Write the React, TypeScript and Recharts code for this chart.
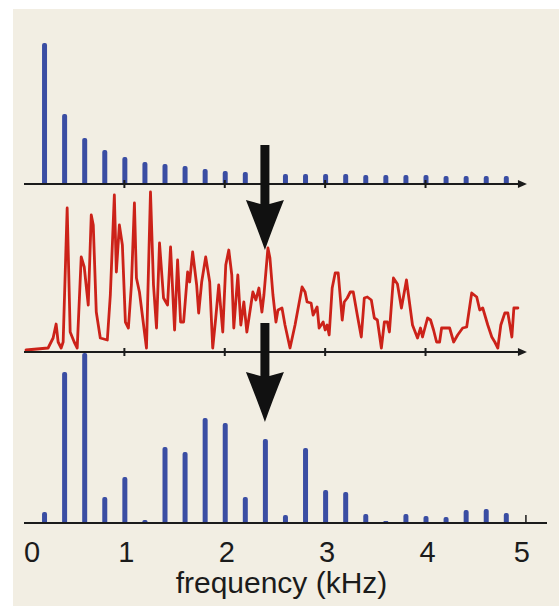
import React from 'react';
import { ComposedChart, Bar, Line, XAxis, YAxis, ReferenceLine, ReferenceDot } from 'recharts';

// Harmonic frequencies (kHz)
const harmonicFreqs = [0.2, 0.4, 0.6, 0.8, 1.0, 1.2, 1.4, 1.6, 1.8, 2.0, 2.2, 2.4, 2.6, 2.8, 3.0, 3.2, 3.4, 3.6, 3.8, 4.0, 4.2, 4.4, 4.6, 4.8];
// Source spectrum amplitudes (top panel)
const sourceAmps = [141, 70, 46, 34, 27, 22, 20, 18, 15, 13, 12, 11, 10, 10, 10, 10, 9, 9, 9, 9, 8, 8, 8, 8];
// Output spectrum amplitudes (bottom panel)
const outputAmps = [11, 151, 170, 26, 46, 3, 76, 71, 105, 100, 26, 84, 8, 75, 33, 31, 9, 2, 9, 7, 6, 13, 14, 10];

// Filter response (middle panel)
const filterFreqs = [
  0.02, 0.24, 0.29, 0.32, 0.34, 0.37, 0.39, 0.43, 0.46, 0.5, 0.53, 0.57, 0.6, 0.64, 0.67, 0.69, 0.72, 0.76, 0.83, 0.86,
  0.9, 0.92, 0.95, 0.98, 1.01, 1.04, 1.07, 1.1, 1.12, 1.15, 1.22, 1.26, 1.29, 1.32, 1.35, 1.39, 1.43, 1.46, 1.5, 1.53,
  1.56, 1.59, 1.63, 1.65, 1.68, 1.72, 1.74, 1.77, 1.81, 1.85, 1.88, 1.91, 1.94, 1.98, 2.01, 2.04, 2.07, 2.09, 2.13, 2.16,
  2.19, 2.22, 2.25, 2.28, 2.31, 2.34, 2.37, 2.39, 2.43, 2.45, 2.48, 2.51, 2.53, 2.57, 2.6, 2.65, 2.7, 2.77, 2.8, 2.82,
  2.86, 2.88, 2.92, 2.94, 2.98, 3.0, 3.02, 3.04, 3.07, 3.1, 3.13, 3.17, 3.19, 3.22, 3.25, 3.28, 3.32, 3.36, 3.39, 3.42,
  3.46, 3.49, 3.52, 3.56, 3.59, 3.62, 3.64, 3.68, 3.72, 3.76, 3.81, 3.83, 3.87, 3.92, 3.95, 3.97, 4.02, 4.05, 4.08, 4.11,
  4.14, 4.16, 4.21, 4.24, 4.28, 4.32, 4.37, 4.41, 4.46, 4.51, 4.54, 4.57, 4.62, 4.66, 4.69, 4.72, 4.75, 4.79, 4.82, 4.86,
  4.88, 4.92,
];
const filterGain = [
  2, 4, 14, 28, 10, 4, 10, 144, 20, 10, 4, 95, 85, 47, 137, 127, 40, 14, 12, 57,
  157, 80, 127, 107, 30, 24, 67, 149, 74, 60, 4, 160, 67, 24, 109, 54, 47, 105, 22, 92,
  30, 30, 80, 70, 100, 67, 39, 70, 95, 70, 4, 34, 67, 20, 87, 102, 77, 24, 77, 27,
  50, 20, 40, 60, 52, 64, 40, 57, 104, 94, 57, 30, 42, 44, 27, 4, 27, 65, 60, 50,
  49, 37, 45, 24, 30, 22, 27, 17, 64, 79, 79, 32, 50, 54, 60, 60, 37, 15, 54, 55,
  52, 34, 32, 4, 30, 30, 20, 74, 68, 44, 72, 57, 27, 14, 24, 15, 34, 32, 22, 10,
  10, 24, 24, 24, 10, 17, 24, 25, 59, 55, 42, 44, 27, 15, 10, 4, 27, 39, 39, 15,
  44, 44,
];

const tickValues = [0, 1, 2, 3, 4, 5];
const innerTicks = [1, 2, 3, 4];
const markedFreq = 2.4;
const upperArrow = { from: 207, to: 102 };
const lowerArrow = { from: 29, to: -70 };

const barData = harmonicFreqs.map((f, i) => ({ f, src: sourceAmps[i], out: outputAmps[i] }));
const lineData = filterFreqs.map((f, i) => ({ f, g: filterGain[i] }));

const INK = '#1b1b1b';
const BLUE = '#3a4da3';
const RED = '#cc2219';
const FONT = '"Liberation Sans", Arial, sans-serif';
const X_DOMAIN: [number, number] = [0, 5.21];

const DigitTick = (props: any) => {
  const { x, y, payload } = props;
  const shift = payload.value === 0 ? 8 : payload.value === 5 ? -4 : 2;
  return (
    <text x={x + shift} y={y} dy={31} textAnchor="middle" fontSize={29} fill={INK} fontFamily={FONT}>
      {payload.value}
    </text>
  );
};

const AxisWithArrow = (props: any) => {
  const { x1, y1, x2 } = props;
  return (
    <g>
      <line x1={x1} y1={y1} x2={x2} y2={y1} stroke={INK} strokeWidth={2.2} />
      <path d={`M${x2 + 4},${y1} L${x2 - 5},${y1 - 4} L${x2 - 5},${y1 + 4} Z`} fill={INK} />
    </g>
  );
};

const TickMark = (props: any) => {
  const { cx, cy } = props;
  return <line x1={cx} y1={cy - 4} x2={cx} y2={cy + 4} stroke={INK} strokeWidth={2} />;
};

const UpTick = (props: any) => {
  const { cx, cy } = props;
  return <line x1={cx} y1={cy - 8} x2={cx} y2={cy} stroke={INK} strokeWidth={1.5} />;
};

const BigArrow = (props: any) => {
  const { x1, y1, y2 } = props;
  const x = x1;
  const sh = 4.5;
  const hh = 19;
  const hl = 50;
  const by = y2 - hl;
  const d = `M${x - sh},${y1} L${x + sh},${y1} L${x + sh},${by + 4} L${x + hh},${by} Q${x + 7},${y2 - 20} ${x},${y2} Q${x - 7},${y2 - 20} ${x - hh},${by} L${x - sh},${by + 4} Z`;
  return <path d={d} fill="#111" />;
};

export default function App() {
  return (
    <div style={{ position: 'absolute', left: 0, top: 0, width: 559, height: 606, background: '#ffffff', overflow: 'hidden' }}>
      <div style={{ position: 'absolute', left: 13, top: 9, width: 546, height: 597, background: '#f2eee3' }} />
      <div style={{ position: 'absolute', left: 0, top: 0 }}>
        <ComposedChart width={559} height={606} data={barData} margin={{ top: 17, right: 12, bottom: 0, left: 24 }}>
          <XAxis
            xAxisId="bot"
            type="number"
            dataKey="f"
            domain={X_DOMAIN}
            ticks={tickValues}
            interval={0}
            allowDataOverflow
            tickLine={false}
            axisLine={{ stroke: INK, strokeWidth: 2.2 }}
            height={83}
            tick={<DigitTick />}
            label={{ value: 'frequency (kHz)', position: 'insideBottom', offset: 13, fontSize: 30, fill: INK, fontFamily: FONT, dx: -4 }}
          />
          <XAxis xAxisId="top" type="number" dataKey="f" domain={X_DOMAIN} allowDataOverflow hide />
          <XAxis xAxisId="mid" type="number" dataKey="f" domain={X_DOMAIN} allowDataOverflow hide />
          <YAxis
            yAxisId="bot"
            type="number"
            domain={[0, 506]}
            allowDataOverflow
            width={0}
            tick={false}
            tickLine={false}
            axisLine={{ stroke: INK, strokeWidth: 2.2 }}
          />
          <YAxis yAxisId="top" type="number" domain={[-339, 167]} allowDataOverflow hide />
          <YAxis yAxisId="mid" type="number" domain={[-171, 335]} allowDataOverflow hide />

          <Bar xAxisId="top" yAxisId="top" dataKey="src" fill={BLUE} barSize={5} radius={[2, 2, 0, 0]} isAnimationActive={false} />
          <Bar xAxisId="bot" yAxisId="bot" dataKey="out" fill={BLUE} barSize={5} radius={[2, 2, 0, 0]} isAnimationActive={false} />
          <Line
            xAxisId="mid"
            yAxisId="mid"
            data={lineData}
            dataKey="g"
            type="linear"
            stroke={RED}
            strokeWidth={2.8}
            strokeLinejoin="round"
            strokeLinecap="round"
            dot={false}
            activeDot={false}
            isAnimationActive={false}
          />

          <ReferenceLine
            xAxisId="top"
            yAxisId="top"
            segment={[{ x: 0, y: 0 }, { x: 4.97, y: 0 }]}
            ifOverflow="visible"
            shape={AxisWithArrow}
          />
          <ReferenceLine
            xAxisId="mid"
            yAxisId="mid"
            segment={[{ x: 0, y: 0 }, { x: 4.97, y: 0 }]}
            ifOverflow="visible"
            shape={AxisWithArrow}
          />
          {innerTicks.map((k) => (
            <ReferenceDot key={`t${k}`} xAxisId="top" yAxisId="top" x={k} y={0} ifOverflow="visible" shape={TickMark} />
          ))}
          {innerTicks.map((k) => (
            <ReferenceDot key={`m${k}`} xAxisId="mid" yAxisId="mid" x={k} y={0} ifOverflow="visible" shape={TickMark} />
          ))}
          <ReferenceDot xAxisId="bot" yAxisId="bot" x={5} y={0} ifOverflow="visible" shape={UpTick} />

          <ReferenceLine
            xAxisId="mid"
            yAxisId="mid"
            segment={[{ x: markedFreq, y: upperArrow.from }, { x: markedFreq, y: upperArrow.to }]}
            ifOverflow="visible"
            shape={BigArrow}
          />
          <ReferenceLine
            xAxisId="mid"
            yAxisId="mid"
            segment={[{ x: markedFreq, y: lowerArrow.from }, { x: markedFreq, y: lowerArrow.to }]}
            ifOverflow="visible"
            shape={BigArrow}
          />
        </ComposedChart>
      </div>
    </div>
  );
}
